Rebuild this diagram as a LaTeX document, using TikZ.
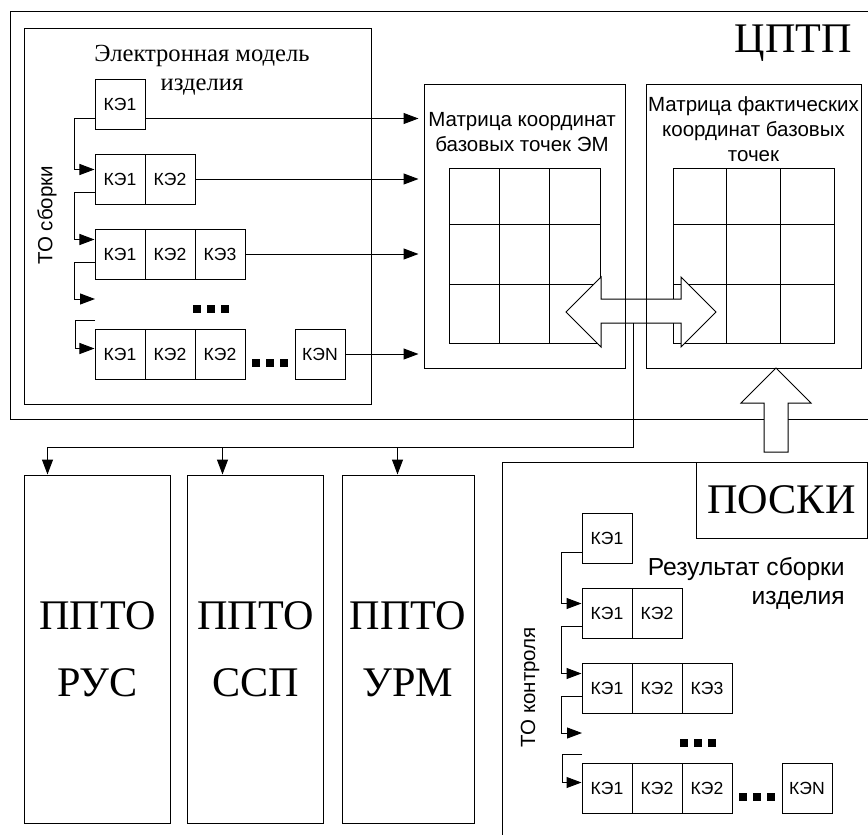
\documentclass[tikz,border=0pt]{standalone}
\usepackage{fontspec}
\setmainfont{Liberation Serif}
\setsansfont{Liberation Sans}
\usetikzlibrary{arrows.meta}
\tikzset{
    link/.style={-{Triangle[length=4.5mm,width=3.3mm]}, line width=0.3mm},
    frame/.style={draw, line width=0.3mm},
    kebox/.style={frame, minimum width=1.5cm, minimum height=1.5cm, inner sep=0, font=\sffamily\fontsize{15}{17}\selectfont},
    bigtext/.style={font=\rmfamily\fontsize{36}{57}\selectfont},
    midtext/.style={font=\rmfamily\fontsize{21}{24.7}\selectfont},
    sidetext/.style={font=\sffamily\fontsize{17.5}{21.3}\selectfont},
    % assembly chain KE1 -> KE1 KE2 -> ... -> KEN
    kechain/.pic={
        \node[kebox] (-k11) at (25,25) {КЭ1};
        \node[kebox] (-k21) at (25,100) {КЭ1};
        \node[kebox] (-k22) at (75,100) {КЭ2};
        \node[kebox] (-k31) at (25,175) {КЭ1};
        \node[kebox] (-k32) at (75,175) {КЭ2};
        \node[kebox] (-k33) at (125,175) {КЭ3};
        \node[kebox] (-k41) at (25,275) {КЭ1};
        \node[kebox] (-k42) at (75,275) {КЭ2};
        \node[kebox] (-k43) at (125,275) {КЭ2};
        \node[kebox] (-k4n) at (225,275) {КЭN};
        % dots
        \foreach \d in {102,116,130} \fill (\d-4,226) rectangle ++(8,8);
        \foreach \d in {161,175,189} \fill (\d-4,280) rectangle ++(8,8);
        % steps
        \coordinate (-g1) at (0,220);
        \coordinate (-g2) at (0,241);
        \draw[link] ([yshift=0.33cm]-k11.south west) -- ++(-20,0) |- ([yshift=-0.48cm]-k21.north west);
        \draw[link] ([yshift=0.36cm]-k21.south west) -- ++(-20,0) |- ([yshift=-0.33cm]-k31.north west);
        \draw[link] ([yshift=0.51cm]-k31.south west) -- ++(-20,0) |- (-g1);
        \draw[link] (-g2) -- ++(-20,0) |- ([yshift=-0.6cm]-k41.north west);
    }
}

\begin{document}
\begin{tikzpicture}[x=0.03cm,y=-0.03cm]
        \useasboundingbox (0,0) rectangle (868,834);

        % CPTP frame
        \draw[line width=0.3mm] (869,11) -- (10,11) -- (10,419) -- (869,419);
        \node[bigtext, anchor=base east, inner sep=0] (cptp) at (852,52) {ЦПТП};

        % electronic model
        \node[frame, minimum width=10.38cm, minimum height=11.25cm] (embox) at (198,216.5) {};
        \node[midtext, align=center, anchor=north, inner sep=0] (emtitle) at (202,45) {Электронная модель\\изделия};
        \node[sidetext, rotate=90] (asm) at (47,215) {ТО сборки};
        \pic (em) at (95,79) {kechain};

        % grids
        \draw[line width=0.3mm] (449,168) rectangle (600,343);
        \foreach \x in {499,549} \draw[line width=0.3mm] (\x,168) -- (\x,343);
        \foreach \y in {224,284} \draw[line width=0.3mm] (449,\y) -- (600,\y);
        \draw[line width=0.3mm] (673,168) rectangle (834,343);
        \foreach \x in {726,780} \draw[line width=0.3mm] (\x,168) -- (\x,343);
        \foreach \y in {224,284} \draw[line width=0.3mm] (673,\y) -- (834,\y);

        % exchange arrow
        \draw[line width=0.3mm, fill=white] (566,312) -- (601,277) -- (601,299) -- (681,299) -- (681,277) -- (716,312)
            -- (681,347) -- (681,323) -- (601,323) -- (601,347) -- cycle;
        \coordinate (hub) at (633,323);
        \coordinate (split) at (633,447);

        % matrices
        \node[frame, minimum width=6.03cm, minimum height=8.49cm] (m1) at (524.5,226.5) {};
        \node[sidetext, align=center, anchor=north, inner sep=0] (m1title) at (522,112) {Матрица координат\\базовых точек ЭМ};
        \node[frame, minimum width=6.45cm, minimum height=8.49cm] (m2) at (753.5,226.5) {};
        \node[sidetext, align=center, anchor=north, inner sep=0] (m2title) at (753.5,96) {Матрица фактических\\координат базовых\\точек};

        \draw[link, shorten >=1.5mm] ([yshift=0.33cm]em-k11.south east) -- ([yshift=0.33cm]em-k11.south east -| m1.west);
        \draw[link, shorten >=1.5mm] (em-k22.east) -- (em-k22.east -| m1.west);
        \draw[link, shorten >=1.5mm] (em-k33.east) -- (em-k33.east -| m1.west);
        \draw[link, shorten >=1.5mm] (em-k4n.east) -- (em-k4n.east -| m1.west);

        % PPTO blocks
        \node[frame, bigtext, align=center, minimum width=4.35cm, minimum height=10.44cm] (rus) at (97.5,649) {ППТО\\РУС};
        \node[frame, bigtext, align=center, minimum width=4.05cm, minimum height=10.44cm] (ssp) at (255.5,649) {ППТО\\ССП};
        \node[frame, bigtext, align=center, minimum width=3.96cm, minimum height=10.44cm] (urm) at (408,649) {ППТО\\УРМ};

        \draw[link] (hub) -- (split) -| ([xshift=0.69cm]rus.north west);
        \draw[link] ([xshift=1.05cm]ssp.north west |- split) -- ([xshift=1.05cm]ssp.north west);
        \draw[link] ([xshift=1.68cm]urm.north west |- split) -- ([xshift=1.68cm]urm.north west);

        % POSKI
        \draw[line width=0.3mm] (869,462) -- (502,462) -- (502,835);
        \node[frame, bigtext, minimum width=5.13cm, minimum height=2.28cm, inner sep=0] (poski) at (781.5,500) {ПОСКИ};
        \node[sidetext, font=\sffamily\fontsize{21}{24.7}\selectfont, align=right, anchor=north east, inner sep=0] (result) at (845,557) {Результат сборки\\изделия};
        \node[sidetext, rotate=90] (ctrl) at (530,687) {ТО контроля};
        \pic (ctl) at (582,513) {kechain};

        % measured data up to m2
        \draw[line width=0.3mm, fill=white] (776,368) -- (811,403) -- (788,403) -- (788,452) -- (764,452) -- (764,403) -- (741,403) -- cycle;
\end{tikzpicture}
\end{document}
